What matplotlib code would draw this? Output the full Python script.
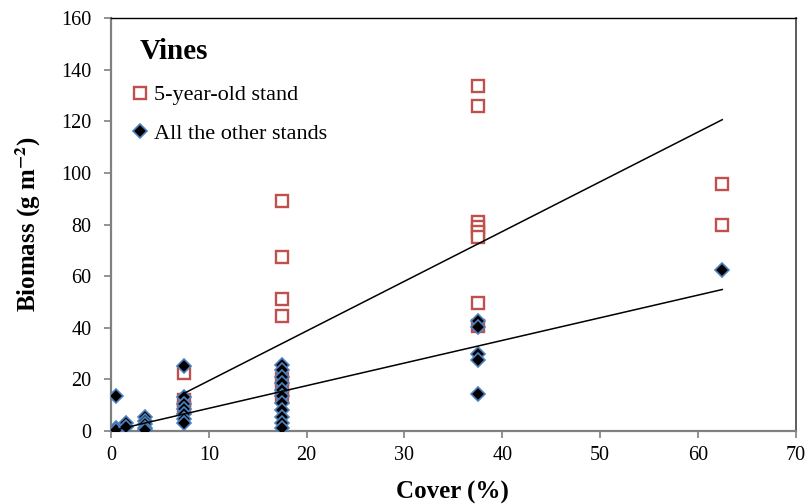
import numpy as np
import matplotlib
matplotlib.use("Agg")
import matplotlib.pyplot as plt

# 5-year-old stand
young_x = [7.5, 7.5, 7.5,
           17.5, 17.5, 17.5, 17.5, 17.5, 17.5, 17.5,
           37.5, 37.5, 37.5, 37.5, 37.5, 37.5, 37.5, 37.5,
           62.5, 62.5]
young_y = [22.5, 12, 9,
           89, 67.5, 51, 44.5, 20, 16, 13,
           133.7, 126, 81, 79, 77, 75, 49.5, 40.5,
           95.7, 79.8]

# all the other stands
other_x = [0, 0.5, 0.5, 0.5, 1.5, 1.5,
           3.5, 3.5, 3.5, 3.5, 3.5,
           7.5, 7.5, 7.5, 7.5, 7.5, 7.5, 7.5,
           17.5, 17.5, 17.5, 17.5, 17.5, 17.5, 17.5, 17.5, 17.5, 17.5, 17.5,
           37.5, 37.5, 37.5, 37.5, 37.5,
           62.5]
other_y = [0, 13.7, 1.2, 0.3, 3, 1.5,
           5.5, 4, 2.5, 1, 0.3,
           25, 13, 10.5, 8.5, 6.5, 4.5, 3,
           25.5, 23.5, 21, 18.5, 16, 13.5, 11, 8, 5.5, 3, 1,
           42.5, 40.2, 29.8, 27.5, 14.2,
           62.2]

# linear trend lines (slope, intercept)
young_fit = (1.927, 0.2)
other_fit = (0.877, 0.0)

xticks = list(range(0, 80, 10))
yticks = list(range(0, 180, 20))

plt.rcParams['font.family'] = ['Liberation Serif', 'DejaVu Serif']
plt.rcParams['mathtext.fontset'] = 'stix'

fig = plt.figure(figsize=(8.11, 5.04), dpi=100)
ax = fig.add_axes([0.137, 0.145, 0.844, 0.819])

red = '#C0504D'
blue = '#4F81BD'

ax.plot(young_x, young_y, linestyle='none', marker='s', markersize=9,
        markerfacecolor='white', markeredgecolor=red, markeredgewidth=1.7,
        label='5-year-old stand', zorder=2)
ax.plot(other_x, other_y, linestyle='none', marker='D', markersize=7,
        markerfacecolor='black', markeredgecolor=blue, markeredgewidth=1.2,
        label='All the other stands', zorder=3)

xs = np.array([min(young_x), max(young_x)])
ax.plot(xs, young_fit[0] * xs + young_fit[1], color='black', lw=1.1, zorder=4)
xs = np.array([min(other_x), max(other_x)])
ax.plot(xs, other_fit[0] * xs + other_fit[1], color='black', lw=1.1, zorder=4)

ax.set_xlim(0, 70)
ax.set_ylim(0, 160)
ax.set_xticks(xticks)
ax.set_yticks(yticks)
ax.tick_params(axis='both', labelsize=14.5, color='#808080', length=5,
               width=1.2, direction='out')
ax.tick_params(axis='y', pad=9)
ax.tick_params(axis='x', pad=6)

ax.spines['left'].set_color('#808080')
ax.spines['bottom'].set_color('#808080')
ax.spines['left'].set_linewidth(1.6)
ax.spines['bottom'].set_linewidth(1.6)
ax.spines['top'].set_color('black')
ax.spines['top'].set_linewidth(1.0)
ax.spines['right'].set_color('#505050')
ax.spines['right'].set_linewidth(1.3)

ax.set_xlabel('Cover (%)', fontsize=18, fontweight='bold')
ax.set_ylabel(r'Biomass (g m$^{\mathbf{-2}}$)', fontsize=18, fontweight='bold')
ax.xaxis.set_label_coords(0.498, -0.12)
ax.yaxis.set_label_coords(-0.099, 0.5)

ax.text(0.042, 0.92, 'Vines', transform=ax.transAxes, fontsize=21,
        fontweight='bold', va='center', ha='left')

ax.legend(loc='upper left', bbox_to_anchor=(0.02, 0.86), frameon=False,
          fontsize=16, handlelength=0.6, handletextpad=0.3,
          labelspacing=0.8, borderaxespad=0)

fig.savefig('out.png', dpi=100)
